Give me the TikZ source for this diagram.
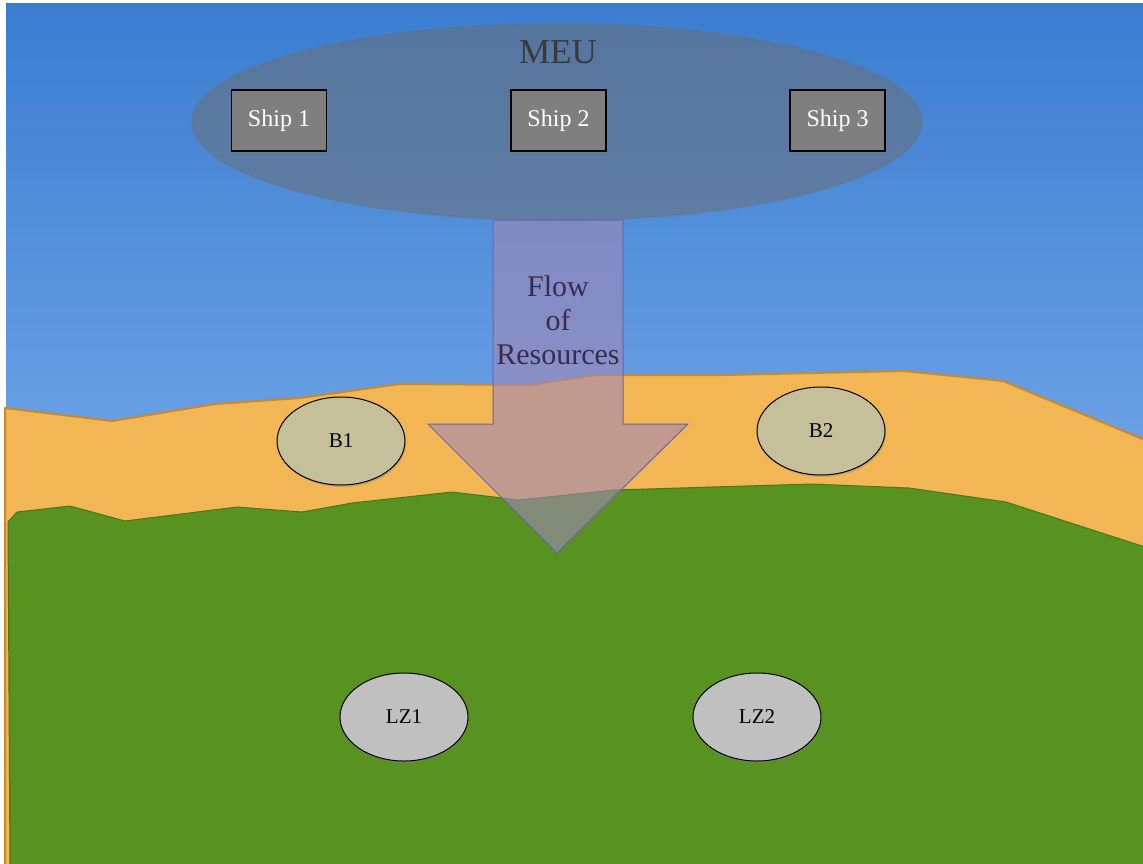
\documentclass[tikz,border=0pt]{standalone}
\usepackage{fontspec}
\setmainfont{Liberation Serif}
\usetikzlibrary{shapes.geometric,shadows}
\definecolor{skytop}{RGB}{58,125,208}
\definecolor{skybot}{RGB}{106,160,228}
\definecolor{beachfill}{RGB}{242,182,85}
\definecolor{beachedge}{RGB}{200,138,44}
\definecolor{grassfill}{RGB}{88,146,32}
\definecolor{grassedge}{RGB}{74,118,34}
\definecolor{meufill}{RGB}{110,110,110}
\definecolor{shipfill}{RGB}{127,127,127}
\definecolor{bfill}{RGB}{197,191,154}
\definecolor{lzfill}{RGB}{192,192,192}
\definecolor{arrowfill}{RGB}{160,136,180}
\definecolor{arrowedge}{RGB}{108,100,168}
\definecolor{flowtext}{RGB}{58,44,80}
\definecolor{meutext}{RGB}{58,58,58}
\begin{document}
\begin{tikzpicture}[x=1pt,y=-1pt,
  shipbox/.style={draw=black, line width=1.2pt, fill=shipfill, minimum width=95pt, minimum height=61pt, inner sep=0pt, text=white, font=\fontsize{24}{28}\selectfont, drop shadow={opacity=0.35,shadow xshift=1pt,shadow yshift=-2pt}},
  spot/.style={ellipse, draw=black, line width=1pt, minimum width=128pt, minimum height=88pt, inner sep=0pt, font=\fontsize{21}{25}\selectfont, drop shadow={opacity=0.35,shadow xshift=1pt,shadow yshift=-2pt}},
  meuoval/.style={ellipse, fill=meufill, fill opacity=0.5, draw=meufill, draw opacity=0.25, line width=2pt, minimum width=730pt, minimum height=197pt, inner sep=0pt},
  flowarrow/.style={fill=arrowfill, fill opacity=0.6, draw=arrowedge, line width=1pt, line join=miter}
]
\useasboundingbox (0,0) rectangle (1143,863);
\fill[white] (0,0) rectangle (1143,863);
% sky
\shade[top color=skytop, bottom color=skybot] (6,3) rectangle (1143,440);
\fill[skybot] (6,439) rectangle (1143,863);
% beach
\filldraw[fill=beachfill, draw=beachedge, line width=2pt, line join=round]
  (5,408) -- (112,421) -- (215,404) -- (300,398) -- (400,384) -- (530,385) -- (595,375)
  -- (724,375) -- (904,371) -- (1003,381) -- (1145,440) -- (1145,865) -- (5,865) -- cycle;
% grass
\filldraw[fill=grassfill, draw=grassedge, line width=1pt, line join=round]
  (8,522) -- (17,512) -- (70,506) -- (125,521) -- (237,507) -- (302,512) -- (352,503)
  -- (452,492) -- (519,500) -- (614,490) -- (812,484) -- (909,488) -- (1006,502)
  -- (1145,547) -- (1145,865) -- (10,865) -- cycle;
% MEU group
\node[meuoval] (meu) at (557,122) {};
\node[font=\fontsize{35}{40}\selectfont, text=meutext] (meulabel) at (558,52) {MEU};
\node[shipbox] (ship1) at (279,120.5) {Ship 1};
\node[shipbox] (ship2) at (558.5,120.5) {Ship 2};
\node[shipbox] (ship3) at (837.5,120.5) {Ship 3};
% beach spots
\node[spot, fill=bfill] (b1) at (341,441) {B1};
\node[spot, fill=bfill] (b2) at (821,431) {B2};
% landing zones
\node[spot, fill=lzfill] (lz1) at (404,717) {LZ1};
\node[spot, fill=lzfill] (lz2) at (757,717) {LZ2};
% flow arrow
\path[flowarrow] (493,220) -- (623,220) -- (623,424) -- (688,424) -- (557,553)
  -- (428,424) -- (493,424) -- cycle;
\node[font=\fontsize{30}{34}\selectfont, text=flowtext, align=center] (flow) at (558,320) {Flow\\of\\Resources};
\end{tikzpicture}
\end{document}
